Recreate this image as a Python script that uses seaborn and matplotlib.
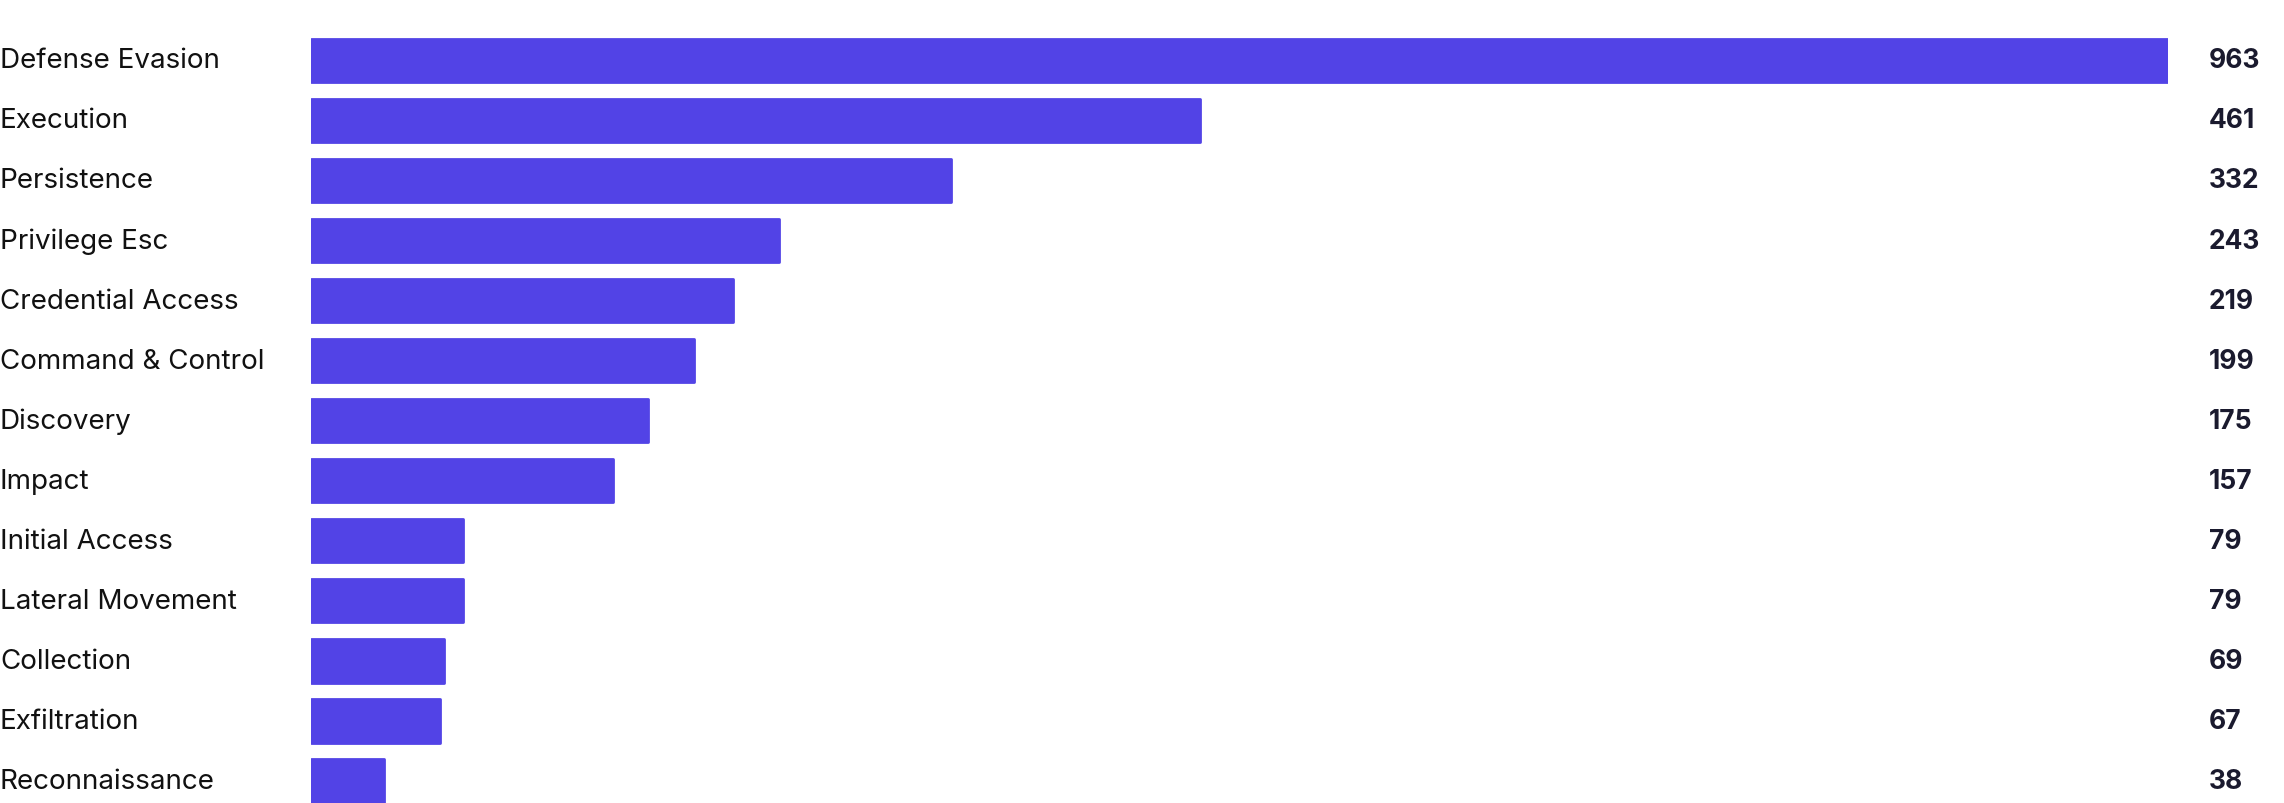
import matplotlib
matplotlib.use("Agg")
import matplotlib.pyplot as plt
import seaborn as sns
import pandas as pd

categories = ["Defense Evasion","Execution","Persistence","Privilege Esc","Credential Access",
              "Command & Control","Discovery","Impact","Initial Access","Lateral Movement",
              "Collection","Exfiltration","Reconnaissance"]
values = [963,461,332,243,219,199,175,157,79,79,69,67,38]

sns.set_theme(style="white")
plt.rcParams['font.family'] = ['Inter', 'DejaVu Sans']
df = pd.DataFrame({"cat": categories, "val": values})
fig = plt.figure(figsize=(22.84, 8.04), dpi=100)
ax = fig.add_axes([0.136, -0.01, 0.813, 0.971])
color = "#5243E6"
sns.barplot(data=df, y="cat", x="val", orient="h", color=color, width=0.72, ax=ax,
            saturation=1, edgecolor=color, linewidth=2)
for p in ax.patches:
    p.set_joinstyle('round')
ax.set_xlim(0, 963)
ax.set_ylim(12.5, -0.5)
ax.set_xlabel(""); ax.set_ylabel("")
ax.set_xticks([]); ax.set_yticks([])
for s in ax.spines.values():
    s.set_visible(False)
for i, (c, v) in enumerate(zip(categories, values)):
    ax.text(-0.136/0.813*963, i, c, ha="left", va="center", fontsize=20, color="#111111")
    ax.text(963*(1+0.018/0.813), i, str(v), ha="left", va="center", fontsize=19,
            fontweight="bold", color="#1a1a2e")
fig.savefig("out.png", dpi=100)
